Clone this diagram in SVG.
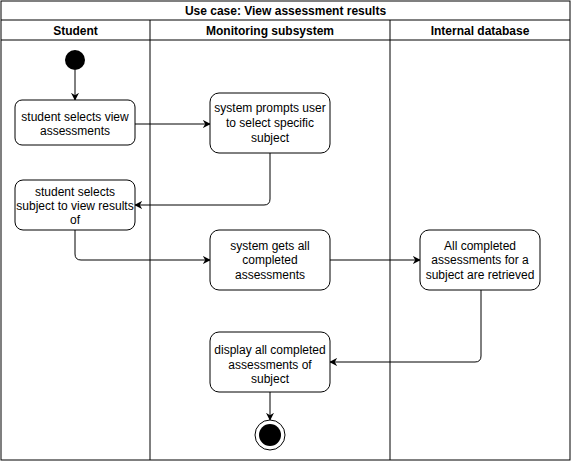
<svg xmlns="http://www.w3.org/2000/svg" width="572" height="462" viewBox="0 0 572 462">
<defs>
<style>
.frame{fill:none;stroke:#000;stroke-width:1}
.hdr{font-family:"Liberation Sans",Arial,sans-serif;font-size:12px;font-weight:bold;fill:#000;text-anchor:middle}
.box{fill:#fff;stroke:#000;stroke-width:1}
.lbl{font-family:"Liberation Sans",Arial,sans-serif;font-size:12px;fill:#000;text-anchor:middle}
.edge{fill:none;stroke:#000;stroke-width:1}
</style>
<marker id="arr" viewBox="0 0 10 10" refX="9" refY="5" markerWidth="8" markerHeight="8" markerUnits="userSpaceOnUse" orient="auto">
<path d="M0,0 L10,5 L0,10 L3,5 Z" fill="#000"/>
</marker>
</defs>
<rect width="572" height="462" fill="#fff"/>
<g id="pool">
<rect class="frame" x="1" y="1" width="569" height="459"/>
<line class="frame" x1="1" y1="20" x2="570" y2="20"/>
<line class="frame" x1="1" y1="40" x2="570" y2="40"/>
<line class="frame" x1="150" y1="20" x2="150" y2="460"/>
<line class="frame" x1="390" y1="20" x2="390" y2="460"/>
<text class="hdr" x="285.5" y="15">Use case: View assessment results</text>
<text class="hdr" x="75.5" y="35">Student</text>
<text class="hdr" x="270" y="35">Monitoring subsystem</text>
<text class="hdr" x="480" y="35">Internal database</text>
</g>
<g id="edges">
<path class="edge" d="M75,70 L75,100" marker-end="url(#arr)"/>
<path class="edge" d="M135,124 L210,124" marker-end="url(#arr)"/>
<path class="edge" d="M270,153 L270,199 Q270,205 264,205 L135,205" marker-end="url(#arr)"/>
<path class="edge" d="M75,230 L75,254 Q75,260 81,260 L210,260" marker-end="url(#arr)"/>
<path class="edge" d="M330,260 L420,260" marker-end="url(#arr)"/>
<path class="edge" d="M481,290 L481,356 Q481,362 475,362 L330,362" marker-end="url(#arr)"/>
<path class="edge" d="M270,392 L270,420" marker-end="url(#arr)"/>
</g>
<g id="start"><circle cx="75" cy="60" r="10" fill="#000"/></g>
<g id="n1">
<rect class="box" x="15" y="100" width="120" height="45" rx="7"/>
<text class="lbl" x="75" y="121">student selects view</text>
<text class="lbl" x="75" y="135">assessments</text>
</g>
<g id="n2">
<rect class="box" x="210" y="93" width="120" height="60" rx="9"/>
<text class="lbl" x="270" y="112">system prompts user</text>
<text class="lbl" x="270" y="127">to select specific</text>
<text class="lbl" x="270" y="142">subject</text>
</g>
<g id="n3">
<rect class="box" x="15" y="180" width="120" height="50" rx="8"/>
<text class="lbl" x="75" y="196">student selects</text>
<text class="lbl" x="75" y="210">subject to view results</text>
<text class="lbl" x="75" y="224">of</text>
</g>
<g id="n4">
<rect class="box" x="210" y="230" width="120" height="60" rx="9"/>
<text class="lbl" x="270" y="250">system gets all</text>
<text class="lbl" x="270" y="264">completed</text>
<text class="lbl" x="270" y="279">assessments</text>
</g>
<g id="n5">
<rect class="box" x="420" y="230" width="120" height="60" rx="9"/>
<text class="lbl" x="480" y="250">All completed</text>
<text class="lbl" x="480" y="264">assessments for a</text>
<text class="lbl" x="480" y="279">subject are retrieved</text>
</g>
<g id="n6">
<rect class="box" x="210" y="332" width="120" height="60" rx="9"/>
<text class="lbl" x="270" y="354">display all completed</text>
<text class="lbl" x="270" y="369">assessments of</text>
<text class="lbl" x="270" y="383">subject</text>
</g>
<g id="end">
<circle cx="270" cy="435" r="15" fill="#fff" stroke="#000" stroke-width="1"/>
<circle cx="270" cy="435" r="11" fill="#000"/>
</g>
</svg>
